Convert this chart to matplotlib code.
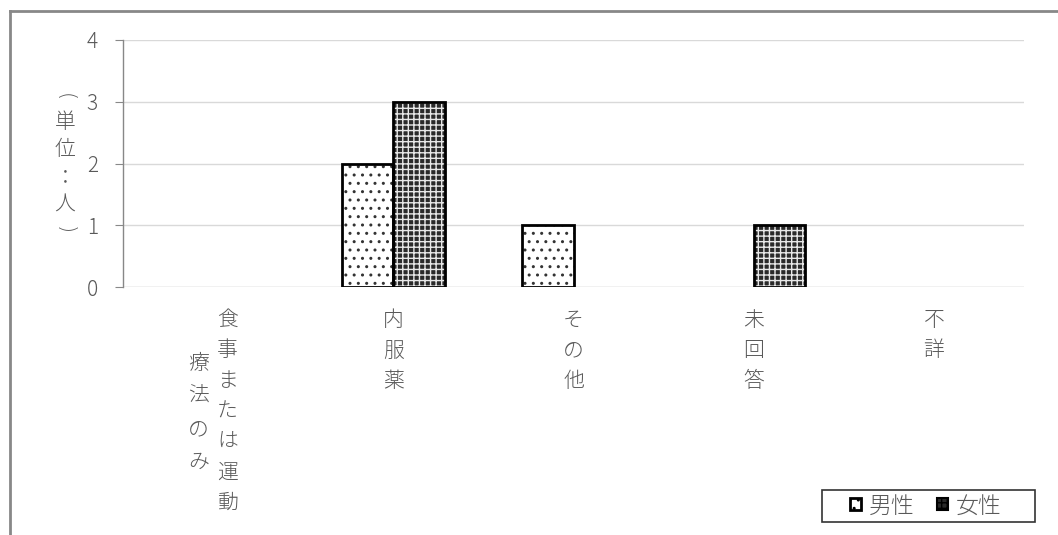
import matplotlib
matplotlib.use("Agg")
import matplotlib.pyplot as plt
import numpy as np
from matplotlib.lines import Line2D
from matplotlib.patches import Patch, Rectangle
from matplotlib.transforms import blended_transform_factory

plt.rcParams['font.family'] = ['Noto Sans CJK JP', 'DejaVu Sans']

categories = ["食事または運動療法のみ", "内服薬", "その他", "未回答", "不詳"]
series_names = ["男性", "女性"]
male = [0, 2, 1, 0, 0]
female = [0, 3, 0, 1, 0]
yticks = [0, 1, 2, 3, 4]
ylabel = "（単位：人）"

W, H = 1058, 535
fig = plt.figure(figsize=(W / 100, H / 100), dpi=100)
ax = fig.add_axes([123 / W, 1 - 287 / H, (1024 - 123) / W, (287 - 40) / H])

text_col = '#595959'
x = np.arange(len(categories))
bw = 0.285

male_style = dict(facecolor='white', edgecolor='#333333', hatch='..', linewidth=0)
female_style = dict(facecolor='#2a2a2a', edgecolor='#e8e8e8', hatch='+++', linewidth=0)

ax.bar(x - bw / 2, male, bw, zorder=3, **male_style)
ax.bar(x - bw / 2, male, bw, fill=False, edgecolor='black', linewidth=2.0, zorder=4)
ax.bar(x + bw / 2, female, bw, zorder=3, **female_style)
ax.bar(x + bw / 2, female, bw, fill=False, edgecolor='black', linewidth=2.0, zorder=4)

for p in ax.patches:
    if p.get_height() == 0:
        p.set_visible(False)

ax.set_xlim(-0.5, len(categories) - 0.5)
ax.set_ylim(0, 4)
ax.set_yticks(yticks)
ax.set_yticklabels([str(t) for t in yticks], fontsize=15, color=text_col,
                   family='Noto Sans CJK JP', fontweight='light')
ax.tick_params(axis='y', length=6, color='#888888', pad=12)
ax.set_xticks([])
ax.grid(axis='y', color='#d9d9d9', linewidth=1.0, zorder=0)
ax.set_axisbelow(True)
for s in ['top', 'right', 'bottom']:
    ax.spines[s].set_visible(False)
ax.spines['left'].set_color('#888888')
ax.spines['left'].set_linewidth(1.0)
ax.axhline(0, color='#d9d9d9', linewidth=1.0, zorder=1)

# vertical category labels (columns of up to 7 characters, right to left)
trans = blended_transform_factory(ax.transData, fig.transFigure)
colw_data = 29 / 180.2
col_starts = [320, 363]
col_steps = [30.5, 33]
for i, cat in enumerate(categories):
    cols = [cat[k:k + 7] for k in range(0, len(cat), 7)]
    n = len(cols)
    for c, col in enumerate(cols):
        cx = i + ((n - 1) / 2 - c) * colw_data
        for j, ch in enumerate(col):
            ax.text(cx, 1 - (col_starts[c] + j * col_steps[c]) / H, ch, transform=trans,
                    ha='center', va='center', fontsize=15, color=text_col,
                    fontweight='light')

# vertical y-axis label (brackets rotated for vertical writing)
ypos = [97, 122, 149, 177, 205, 230]
bracket_map = {"（": "(", "）": ")"}
for ch, yy in zip(ylabel, ypos):
    if ch in bracket_map:
        fig.text(65 / W, 1 - yy / H, bracket_map[ch], ha='center', va='center',
                 fontsize=15, color=text_col, fontweight='light', rotation=-90,
                 family='DejaVu Sans')
    else:
        fig.text(65 / W, 1 - yy / H, ch, ha='center', va='center', fontsize=15,
                 color=text_col, fontweight='light')

# legend (frame drawn separately to match proportions)
handles = [Patch(facecolor='white', edgecolor='black', linewidth=2.0, hatch='..'),
           Patch(facecolor='#2a2a2a', edgecolor='black', linewidth=1.5, hatch='+++')]
leg = fig.legend(handles, series_names, loc='center', bbox_to_anchor=(926 / W, 1 - 506 / H),
                 ncol=2, frameon=False, fontsize=16.5, handlelength=0.45,
                 handleheight=0.45, handletextpad=0.35, columnspacing=1.0,
                 borderpad=0.2, borderaxespad=0, labelcolor=text_col)
for t in leg.get_texts():
    t.set_fontweight('light')
fig.add_artist(Rectangle((822 / W, 1 - 522 / H), (1035 - 822) / W, 32 / H,
                         transform=fig.transFigure, fill=False,
                         edgecolor='#333333', linewidth=1.2))

# outer frame (left and top)
fig.add_artist(Line2D([10 / W, 10 / W], [0, 1 - 11 / H], transform=fig.transFigure,
                      color='#888888', linewidth=2))
fig.add_artist(Line2D([10 / W, 1], [1 - 11 / H, 1 - 11 / H], transform=fig.transFigure,
                      color='#888888', linewidth=2))

fig.savefig('out.png', dpi=100)
